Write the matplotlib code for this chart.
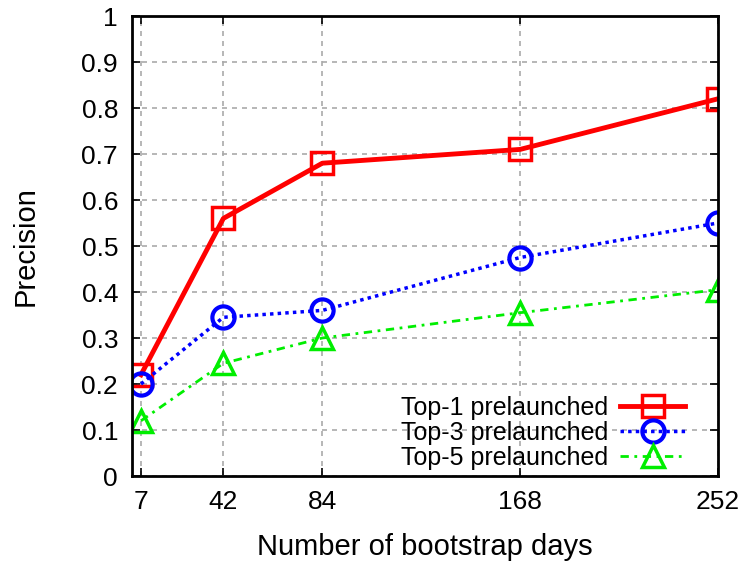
import matplotlib
matplotlib.use("Agg")
import matplotlib.pyplot as plt

plt.rcParams['font.family'] = ['Liberation Sans', 'DejaVu Sans']

days = [7, 42, 84, 168, 252]
top1 = [0.22, 0.56, 0.68, 0.71, 0.82]
top3 = [0.20, 0.345, 0.36, 0.475, 0.55]
top5 = [0.12, 0.245, 0.30, 0.355, 0.405]
labels = ["Top-1 prelaunched", "Top-3 prelaunched", "Top-5 prelaunched"]

fig = plt.figure(figsize=(7.4, 5.61), dpi=100)
ax = fig.add_axes([132 / 740, 1 - 476 / 561, (718 - 132) / 740, (476 - 16) / 561])

ax.plot(days, top1, color='#ff0000', lw=3.5, marker='s', ms=16, mfc='none',
        mew=2.5, label=labels[0])
ax.plot(days, top3, color='#0000ff', lw=2.5, ls=(0, (1, 1.2)), marker='o', ms=16,
        mfc='none', mew=3, label=labels[1])
ax.plot(days, top5, color='#00ee00', lw=2, ls=(0, (3, 2, 1, 2)), marker='^', ms=16,
        mfc='none', mew=2.5, label=labels[2])

ax.set_xlim(3.2, 252)
ax.set_ylim(0, 1)
ax.set_xticks(days)
ax.set_yticks([i / 10 for i in range(11)])
ax.set_yticklabels(['0'] + [f'{i/10:.1f}' for i in range(1, 10)] + ['1'])
ax.tick_params(direction='in', labelsize=19, length=6, width=1.2,
               top=True, right=True, pad=10)
ax.grid(True, color='#aaaaaa', ls=(0, (3, 3)), lw=1.2)
for s in ax.spines.values():
    s.set_linewidth(2)

ax.set_xlabel("Number of bootstrap days", fontsize=21, labelpad=14)
ax.set_ylabel("Precision", fontsize=21, labelpad=30)

leg = ax.legend(loc='lower right', frameon=False, markerfirst=False, fontsize=18,
                handlelength=2.6, labelspacing=0.05, borderaxespad=0.2,
                handletextpad=0.5, bbox_to_anchor=(0.97, -0.02))

fig.savefig("out.png", dpi=100)
